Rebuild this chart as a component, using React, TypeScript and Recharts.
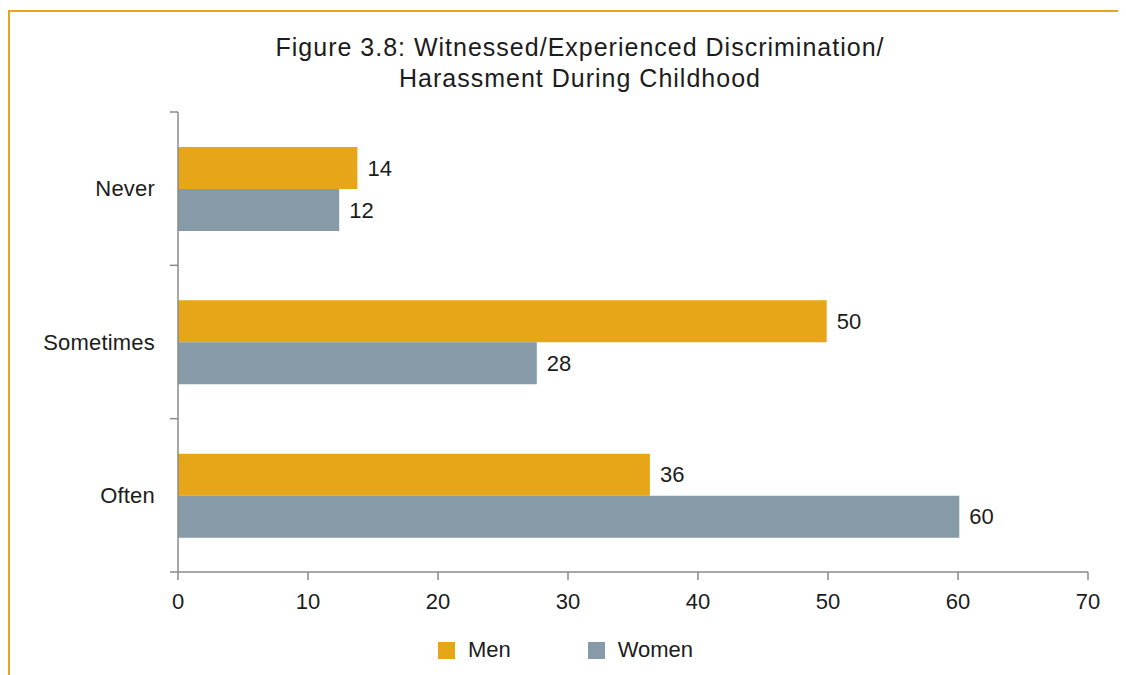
import { BarChart, Bar, XAxis, YAxis, Legend, LabelList } from "recharts";

const categories = ["Never", "Sometimes", "Often"];
const menValues = [13.8, 49.9, 36.3];
const womenValues = [12.4, 27.6, 60.1];
const xTicks = [0, 10, 20, 30, 40, 50, 60, 70];

const GOLD = "#E6A617";
const SLATE = "#869BA7";
const AXIS = "#8a8a8a";
const TEXT = "#1c1c1c";
const FONT = "'Liberation Sans', Arial, Helvetica, sans-serif";

const data = categories.map((c, i) => ({ name: c, Men: menValues[i], Women: womenValues[i] }));

// category labels sit at band centres, tick marks sit on the band edges
function CategoryTick(props: any) {
  const { x, y, payload, index } = props;
  const half = payload && payload.offset ? payload.offset : 460 / 6;
  const axisX = x + 8 + 15;
  return (
    <g>
      <line x1={axisX - 8} x2={axisX} y1={y - half} y2={y - half} stroke={AXIS} strokeWidth={1.5} />
      {index === categories.length - 1 && (
        <line x1={axisX - 8} x2={axisX} y1={y + half} y2={y + half} stroke={AXIS} strokeWidth={1.5} />
      )}
      <text x={x} y={y} dy="0.35em" textAnchor="end" fontSize={22} fill={TEXT} fontFamily={FONT} letterSpacing={0.2}>
        {payload.value}
      </text>
    </g>
  );
}

function LegendContent() {
  const items = [
    { label: "Men", color: GOLD },
    { label: "Women", color: SLATE },
  ];
  return (
    <div
      style={{
        display: "flex",
        justifyContent: "center",
        alignItems: "center",
        fontFamily: FONT,
        fontSize: 22,
        color: TEXT,
        paddingRight: 5,
      }}
    >
      {items.map((it, i) => (
        <div key={it.label} style={{ display: "flex", alignItems: "center", marginRight: i === 0 ? 77 : 0 }}>
          <span style={{ width: 17, height: 17, background: it.color, display: "inline-block", marginRight: 13 }} />
          <span>{it.label}</span>
        </div>
      ))}
    </div>
  );
}

export default function App() {
  return (
    <div
      style={{
        marginTop: 2,
        width: 1116,
        height: 663,
        borderTop: `2px solid ${GOLD}`,
        borderLeft: `2px solid ${GOLD}`,
        position: "relative",
      }}
    >
      <div
        style={{
          position: "absolute",
          top: 20,
          left: 0,
          width: 1140,
          textAlign: "center",
          fontFamily: FONT,
          fontSize: 25,
          letterSpacing: 1,
          lineHeight: "31px",
          color: TEXT,
        }}
      >
        Figure 3.8: Witnessed/Experienced Discrimination/
        <br />
        Harassment During Childhood
      </div>
      <BarChart
        width={1116}
        height={663}
        data={data}
        layout="vertical"
        margin={{ top: 100, right: 38, left: 0, bottom: 47 }}
        barGap={0}
        barSize={42}
      >
        <XAxis
          type="number"
          domain={[0, 70]}
          ticks={xTicks}
          interval={0}
          height={30}
          stroke={AXIS}
          strokeWidth={1.5}
          tickSize={8}
          tickMargin={13}
          tick={{ fontSize: 22, fill: TEXT, fontFamily: FONT }}
        />
        <YAxis
          type="category"
          dataKey="name"
          width={168}
          stroke={AXIS}
          strokeWidth={1.5}
          tickLine={false}
          tickSize={8}
          tickMargin={15}
          tick={<CategoryTick />}
          interval={0}
        />
        <Legend
          verticalAlign="bottom"
          height={26}
          content={<LegendContent />}
          wrapperStyle={{ top: 625, left: 0, width: 1116 }}
        />
        <Bar dataKey="Men" fill={GOLD} isAnimationActive={false}>
          <LabelList
            dataKey="Men"
            position="right"
            offset={10}
            formatter={(v: any) => Math.round(Number(v))}
            style={{ fontSize: 22, fill: TEXT, fontFamily: FONT }}
          />
        </Bar>
        <Bar dataKey="Women" fill={SLATE} isAnimationActive={false}>
          <LabelList
            dataKey="Women"
            position="right"
            offset={10}
            formatter={(v: any) => Math.round(Number(v))}
            style={{ fontSize: 22, fill: TEXT, fontFamily: FONT }}
          />
        </Bar>
      </BarChart>
    </div>
  );
}
